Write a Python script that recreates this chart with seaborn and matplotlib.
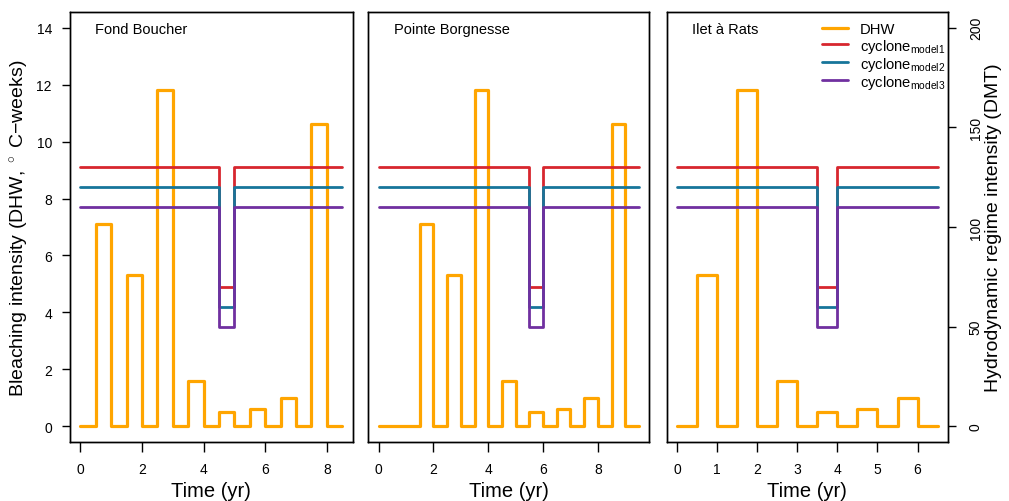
import matplotlib
matplotlib.use("Agg")
import matplotlib.pyplot as plt
import seaborn as sns
import pandas as pd

# ---------------- data ----------------
sites = ["Fond Boucher", "Pointe Borgnesse", "Ilet à Rats"]

time_fb = [0, 0.5, 1, 1.5, 2, 2.5, 3, 3.5, 4, 4.5, 5, 5.5, 6, 6.5, 7, 7.5, 8, 8.5]
dhw_fb = [0, 7.1, 0, 5.3, 0, 11.8, 0, 1.6, 0, 0.5, 0, 0.6, 0, 1.0, 0, 10.6, 0, 0]

time_pb = [0, 0.5, 1, 1.5, 2, 2.5, 3, 3.5, 4, 4.5, 5, 5.5, 6, 6.5, 7, 7.5, 8, 8.5, 9, 9.5]
dhw_pb = [0, 0, 0, 7.1, 0, 5.3, 0, 11.8, 0, 1.6, 0, 0.5, 0, 0.6, 0, 1.0, 0, 10.6, 0, 0]

time_ir = [0, 0.5, 1, 1.5, 2, 2.5, 3, 3.5, 4, 4.5, 5, 5.5, 6, 6.5]
dhw_ir = [0, 5.3, 0, 11.8, 0, 1.6, 0, 0.5, 0, 0.6, 0, 1.0, 0, 0]

# cyclone (DMT) levels: normal regime and during the cyclone year
cyclone_models = ["model1", "model2", "model3"]
cyclone_normal = [130, 120, 110]
cyclone_event = [70, 60, 50]
cyclone_start = [4.5, 5.5, 3.5]   # start of the cyclone half-year, per site

x_ticks = [[0, 2, 4, 6, 8], [0, 2, 4, 6, 8], [0, 1, 2, 3, 4, 5, 6]]
y_ticks_left = [0, 2, 4, 6, 8, 10, 12, 14]
y_ticks_right = [0, 50, 100, 150, 200]

times = [time_fb, time_pb, time_ir]
dhws = [dhw_fb, dhw_pb, dhw_ir]

# ---------------- style ----------------
sns.set_style("ticks")
plt.rcParams["font.family"] = ["Liberation Sans", "DejaVu Sans"]
plt.rcParams["mathtext.fontset"] = "custom"
plt.rcParams["mathtext.rm"] = "Liberation Sans"
plt.rcParams["mathtext.it"] = "Liberation Sans:italic"
for key in ["text.color", "axes.labelcolor", "xtick.color", "ytick.color", "axes.edgecolor"]:
    plt.rcParams[key] = "black"

c_dhw = "#FFA500"
c_cyc = ["#D7262E", "#17759A", "#7030A0"]

W, H = 1009, 502
fig = plt.figure(figsize=(W / 100, H / 100), dpi=100)

panel_px = [(70.0, 352.7), (368.3, 649.3), (666.7, 948.0)]
top_px, bot_px = 12.7, 443.3

handles = []
for i, (site, t, d) in enumerate(zip(sites, times, dhws)):
    l, r = panel_px[i]
    ax = fig.add_axes([l / W, 1 - bot_px / H, (r - l) / W, (bot_px - top_px) / H])
    ax2 = ax.twinx()

    df = pd.DataFrame({"time": t, "DHW": d})
    sns.lineplot(data=df, x="time", y="DHW", ax=ax, color=c_dhw, lw=2.3,
                 drawstyle="steps-post", estimator=None, sort=False,
                 label="DHW", legend=False)

    for k, m in enumerate(cyclone_models):
        vals = [cyclone_event[k] if tt == cyclone_start[i] else cyclone_normal[k] for tt in t]
        dfc = pd.DataFrame({"time": t, "DMT": vals})
        sns.lineplot(data=dfc, x="time", y="DMT", ax=ax2, color=c_cyc[k], lw=2.0,
                     drawstyle="steps-post", estimator=None, sort=False,
                     label=r"cyclone$_{\mathrm{" + m + "}}$", legend=False)

    xmax = t[-1]
    pad = 0.04 * xmax
    ax.set_xlim(-pad, xmax + pad)
    ax.set_ylim(-0.56, 14.56)
    ax2.set_ylim(-8, 208)
    ax.set_xticks(x_ticks[i])
    ax.set_xlabel("")
    ax.set_ylabel("")
    ax2.set_ylabel("")
    ax.tick_params(axis="x", length=7, width=1, pad=7.5, labelsize=10, direction="out")

    if i == 0:
        ax.set_yticks(y_ticks_left)
        ax.tick_params(axis="y", length=6, width=1, pad=7, labelsize=10)
    else:
        ax.set_yticks([])
    if i == 2:
        ax2.set_yticks(y_ticks_right)
        ax2.tick_params(axis="y", length=6, width=1, pad=9, labelsize=10, labelrotation=90)
        for lab in ax2.get_yticklabels():
            lab.set_va("center")
    else:
        ax2.set_yticks([])

    for a in (ax, ax2):
        for s in a.spines.values():
            s.set_linewidth(1.0)
            s.set_color("black")
            s.set_visible(True)

    ax.text(0.09, 0.96, site, transform=ax.transAxes, ha="left", va="center", fontsize=10.5)

    fig.text(((l + r) / 2) / W, 1 - 492 / H, "Time (yr)", ha="center", va="center", fontsize=14.5)

    if i == 2:
        handles = ax.get_lines()[:1] + ax2.get_lines()[:3]

leg = fig.legend(handles=handles, labels=[h.get_label() for h in handles],
                 loc="upper left", bbox_to_anchor=(822 / W, 1 - 23.5 / H),
                 frameon=False, fontsize=10.6, handlelength=1.75, handletextpad=0.8,
                 labelspacing=0.0, borderpad=0, borderaxespad=0)

fig.text(20 / W, 1 - 228 / H, "Bleaching intensity (DHW, $^\\circ$ C\u2212weeks)",
         rotation=90, ha="center", va="center", fontsize=14)
fig.text(993 / W, 1 - 228 / H, "Hydrodynamic regime intensity (DMT)",
         rotation=90, ha="center", va="center", fontsize=14)

fig.savefig("out.png", dpi=100)
